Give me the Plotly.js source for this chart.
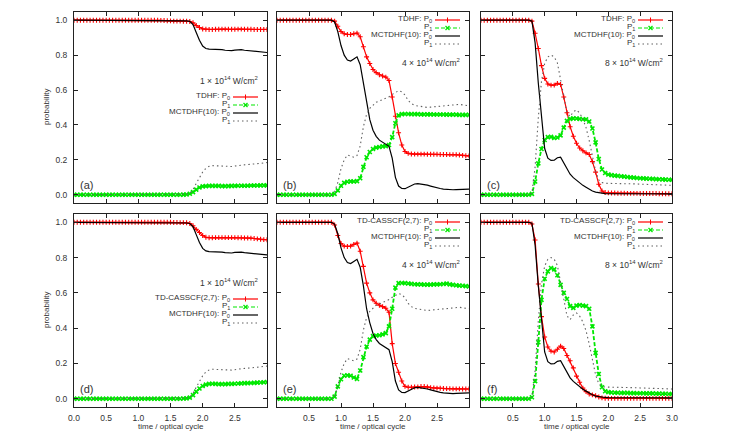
<!DOCTYPE html>
<html>
<head>
<meta charset="utf-8">
<script src="https://cdn.plot.ly/plotly-3.0.1.min.js"></script>
<style>html,body{margin:0;padding:0;background:#fff;}#plot{width:747px;height:444px;}</style>
</head>
<body>
<div id="plot"></div>
<script>
// time grid (optical cycles)
const T = [0,0.05,0.1,0.15,0.2,0.25,0.3,0.35,0.4,0.45,
 0.5,0.55,0.6,0.65,0.7,0.75,0.8,0.85,0.9,0.95,
 1,1.05,1.1,1.15,1.2,1.25,1.3,1.35,1.4,1.45,
 1.5,1.55,1.6,1.65,1.7,1.75,1.8,1.85,1.9,1.95,
 2,2.05,2.1,2.15,2.2,2.25,2.3,2.35,2.4,2.45,
 2.5,2.55,2.6,2.65,2.7,2.75,2.8,2.85,2.9,2.95,
 3];

// ---- 1e14 W/cm2 ----
const mc1_P0 = [1,1,1,1,1,1,1,1,1,1,
 1,1,1,1,1,1,1,1,1,1,
 1,1,1,1,1,1,1,1,1,0.999,
 0.999,0.999,0.998,0.998,0.997,0.996,0.993,0.975,0.93,0.885,
 0.852,0.838,0.834,0.834,0.835,0.834,0.831,0.828,0.826,0.826,
 0.829,0.832,0.831,0.828,0.826,0.825,0.823,0.821,0.819,0.816,
 0.815];
const mc1_P1 = [0,0,0,0,0,0,0,0,0,0,
 0,0,0,0,0,0,0,0,0,0,
 0,0,0,0,0,0,0,0,0,0,
 0,0,0.001,0.001,0.002,0.004,0.008,0.03,0.065,0.1,
 0.13,0.152,0.163,0.167,0.167,0.166,0.165,0.164,0.163,0.162,
 0.163,0.167,0.17,0.171,0.172,0.174,0.176,0.178,0.18,0.183,
 0.185];
const tdhf1_P0 = [1,1,1,1,1,1,1,1,1,1,
 1,1,1,1,1,1,1,1,1,1,
 1,1,1,1,1,1,1,0.999,0.998,0.997,
 0.996,0.995,0.995,0.995,0.994,0.994,0.993,0.985,0.97,0.958,
 0.95,0.948,0.947,0.947,0.948,0.948,0.949,0.949,0.948,0.948,
 0.948,0.949,0.949,0.948,0.948,0.948,0.947,0.947,0.947,0.947,
 0.947];
const tdhf1_P1 = [0,0,0,0,0,0,0,0,0,0,
 0,0,0,0,0,0,0,0,0,0,
 0,0,0,0,0,0,0,0,0,0,
 0,0,0,0,0.001,0.002,0.006,0.015,0.03,0.042,
 0.048,0.05,0.051,0.051,0.051,0.051,0.05,0.05,0.05,0.051,
 0.051,0.052,0.052,0.052,0.052,0.053,0.053,0.053,0.054,0.054,
 0.054];
const cas1_P0 = [1,1,1,1,1,1,1,1,1,1,
 1,1,1,1,1,1,1,1,1,1,
 1,1,1,1,1,1,1,1,1,1,
 1,0.999,0.999,0.998,0.998,0.997,0.993,0.98,0.96,0.942,
 0.925,0.915,0.912,0.912,0.913,0.913,0.913,0.913,0.913,0.913,
 0.913,0.912,0.912,0.911,0.911,0.91,0.908,0.906,0.904,0.902,
 0.901];
const cas1_P1 = [0,0,0,0,0,0,0,0,0,0,
 0,0,0,0,0,0,0,0,0,0,
 0,0,0,0,0,0,0,0,0,0,
 0,0,0,0,0.001,0.002,0.006,0.02,0.04,0.058,
 0.072,0.08,0.084,0.085,0.084,0.083,0.083,0.083,0.084,0.084,
 0.085,0.086,0.087,0.088,0.088,0.089,0.09,0.091,0.092,0.093,
 0.094];

// ---- 4e14 W/cm2 ----
const mc4_P0 = [1,1,1,1,1,1,1,1,1,1,
 1,1,1,1,1,1,1,1,0.99,0.935,
 0.855,0.8,0.772,0.766,0.778,0.79,0.745,0.64,0.51,0.43,
 0.37,0.335,0.313,0.3,0.29,0.278,0.21,0.1,0.05,0.036,
 0.035,0.045,0.055,0.062,0.064,0.062,0.058,0.055,0.05,0.044,
 0.039,0.036,0.033,0.031,0.029,0.029,0.03,0.031,0.032,0.033,
 0.033];
const mc4_P1 = [0,0,0,0,0,0,0,0,0,0,
 0,0,0,0,0,0,0,0,0.015,0.07,
 0.15,0.2,0.228,0.22,0.215,0.225,0.28,0.39,0.46,0.495,
 0.515,0.53,0.537,0.545,0.553,0.562,0.575,0.588,0.596,0.59,
 0.572,0.54,0.522,0.512,0.508,0.505,0.501,0.5,0.502,0.504,
 0.506,0.508,0.51,0.512,0.514,0.517,0.52,0.518,0.515,0.512,
 0.51];
const tdhf4_P0 = [1,1,1,1,1,1,1,1,1,1,
 1,1,1,1,1,1,1,1,0.995,0.965,
 0.935,0.922,0.918,0.918,0.922,0.926,0.905,0.848,0.79,0.752,
 0.718,0.7,0.688,0.68,0.674,0.655,0.56,0.45,0.355,0.285,
 0.248,0.237,0.234,0.233,0.233,0.233,0.233,0.232,0.232,0.232,
 0.232,0.231,0.231,0.231,0.23,0.23,0.229,0.228,0.226,0.224,
 0.223];
const tdhf4_P1 = [0,0,0,0,0,0,0,0,0,0,
 0,0,0,0,0,0,0,0,0.005,0.025,
 0.052,0.068,0.075,0.077,0.076,0.078,0.095,0.16,0.215,0.245,
 0.262,0.27,0.274,0.277,0.279,0.285,0.33,0.41,0.455,0.462,
 0.463,0.463,0.462,0.462,0.462,0.461,0.461,0.461,0.461,0.46,
 0.46,0.46,0.46,0.459,0.459,0.459,0.459,0.458,0.458,0.458,
 0.458];
const cas4_P0 = [1,1,1,1,1,1,1,1,1,1,
 1,1,1,1,1,1,1,1,0.985,0.925,
 0.88,0.865,0.863,0.865,0.875,0.882,0.836,0.75,0.655,0.6,
 0.56,0.541,0.53,0.522,0.513,0.49,0.312,0.2,0.15,0.1,
 0.07,0.065,0.065,0.066,0.067,0.069,0.069,0.067,0.063,0.061,
 0.06,0.059,0.058,0.057,0.057,0.056,0.056,0.056,0.055,0.055,
 0.055];
const cas4_P1 = [0,0,0,0,0,0,0,0,0,0,
 0,0,0,0,0,0,0,0,0.012,0.07,
 0.11,0.13,0.133,0.13,0.12,0.112,0.16,0.236,0.295,0.335,
 0.355,0.358,0.36,0.365,0.372,0.41,0.51,0.63,0.655,0.656,
 0.655,0.653,0.651,0.649,0.648,0.648,0.647,0.647,0.647,0.648,
 0.648,0.649,0.65,0.652,0.648,0.645,0.643,0.641,0.64,0.638,
 0.637];

// ---- 8e14 W/cm2 ----
const mc8_P0 = [1,1,1,1,1,1,1,1,1,1,
 1,1,1,1,1,1,0.995,0.87,0.64,0.43,
 0.265,0.21,0.197,0.198,0.212,0.215,0.18,0.145,0.118,0.098,
 0.082,0.066,0.054,0.043,0.031,0.022,0.015,0.011,0.008,0.007,
 0.006,0.006,0.006,0.006,0.006,0.006,0.006,0.006,0.006,0.006,
 0.005,0.005,0.005,0.005,0.005,0.005,0.005,0.005,0.005,0.005,
 0.005];
const mc8_P1 = [0,0,0,0,0,0,0,0,0,0,
 0,0,0,0,0,0,0.01,0.16,0.44,0.65,
 0.752,0.79,0.8,0.79,0.755,0.665,0.56,0.47,0.448,0.475,
 0.486,0.468,0.435,0.385,0.31,0.215,0.135,0.085,0.07,0.066,
 0.066,0.066,0.066,0.066,0.066,0.065,0.064,0.063,0.063,0.062,
 0.061,0.06,0.06,0.059,0.058,0.058,0.057,0.056,0.056,0.055,
 0.055];
const tdhf8_P0 = [1,1,1,1,1,1,1,1,1,1,
 1,1,1,1,1,1,0.995,0.925,0.838,0.74,
 0.667,0.635,0.628,0.628,0.638,0.632,0.56,0.47,0.39,0.335,
 0.295,0.268,0.252,0.24,0.231,0.19,0.13,0.06,0.022,0.013,
 0.011,0.01,0.01,0.009,0.009,0.009,0.008,0.008,0.008,0.008,
 0.007,0.007,0.007,0.007,0.007,0.007,0.006,0.006,0.006,0.006,
 0.006];
const tdhf8_P1 = [0,0,0,0,0,0,0,0,0,0,
 0,0,0,0,0,0,0.005,0.076,0.18,0.262,
 0.314,0.33,0.332,0.325,0.328,0.34,0.385,0.423,0.435,0.438,
 0.437,0.435,0.433,0.432,0.42,0.38,0.3,0.205,0.145,0.125,
 0.116,0.113,0.11,0.108,0.106,0.104,0.102,0.1,0.098,0.096,
 0.095,0.094,0.093,0.092,0.091,0.09,0.089,0.088,0.087,0.086,
 0.086];
const cas8_P0 = [1,1,1,1,1,1,1,1,1,1,
 1,1,1,1,1,1,0.99,0.9,0.65,0.465,
 0.35,0.293,0.27,0.265,0.28,0.298,0.285,0.245,0.215,0.175,
 0.128,0.093,0.06,0.04,0.027,0.022,0.017,0.01,0.005,0.003,
 0.002,0.002,0.002,0.002,0.002,0.002,0.002,0.002,0.002,0.002,
 0.002,0.002,0.002,0.002,0.002,0.002,0.002,0.002,0.002,0.002,
 0.002];
const cas8_P1 = [0,0,0,0,0,0,0,0,0,0,
 0,0,0,0,0,0,0.008,0.1,0.32,0.56,
 0.68,0.722,0.741,0.733,0.7,0.645,0.6,0.565,0.525,0.515,
 0.528,0.531,0.528,0.525,0.51,0.41,0.26,0.14,0.065,0.042,
 0.037,0.035,0.034,0.034,0.033,0.033,0.033,0.032,0.032,0.031,
 0.031,0.031,0.03,0.03,0.03,0.029,0.029,0.028,0.028,0.027,
 0.027];

// labels
const panelLetters = ['(a)','(b)','(c)','(d)','(e)','(f)'];
const intensities = ['1 × 10<sup>14</sup> W/cm<sup>2</sup>','4 × 10<sup>14</sup> W/cm<sup>2</sup>','8 × 10<sup>14</sup> W/cm<sup>2</sup>'];
const methodTop = 'TDHF: P<sub>0</sub>';
const methodBottom = 'TD-CASSCF(2,7): P<sub>0</sub>';
const refLabel = 'MCTDHF(10): P<sub>0</sub>';
const p1Label = 'P<sub>1</sub>';
const xTickValsTop = [0.5,1,1.5,2,2.5];
const xTickValsBottom = [[0,0.5,1,1.5,2,2.5],[0.5,1,1.5,2,2.5],[0.5,1,1.5,2,2.5,3]];
const xTickTextsBottom = [
  ['0.0','0.5','1.0','1.5','2.0','2.5'],
  ['0.5','1.0','1.5','2.0','2.5'],
  ['0.5','1.0','1.5','2.0','2.5','3.0']
];
const yTickVals = [0,0.2,0.4,0.6,0.8,1.0];
const yTickText = ['0.0','0.2','0.4','0.6','0.8','1.0'];
const xTitle = 'time / optical cycle';
const yTitle = 'probability';

// panel series: [method P0, method P1, ref P0, ref P1]
const panels = [
  [tdhf1_P0, tdhf1_P1, mc1_P0, mc1_P1],
  [tdhf4_P0, tdhf4_P1, mc4_P0, mc4_P1],
  [tdhf8_P0, tdhf8_P1, mc8_P0, mc8_P1],
  [cas1_P0, cas1_P1, mc1_P0, mc1_P1],
  [cas4_P0, cas4_P1, mc4_P0, mc4_P1],
  [cas8_P0, cas8_P1, mc8_P0, mc8_P1]
];

// ---------- layout geometry ----------
const ML = 74, MR = 75, MT = 12, MB = 37, W = 747, H = 444;
const PW = W - ML - MR, PH = H - MT - MB;
const colPx = [[74,267],[277,469],[481,672]];
const rowPx = [[12,203],[214,407]];
const px = v => (v - ML) / PW;
const py = v => (H - MB - v) / PH;

const RED = '#ff0000', GREEN = '#00e800', BLACK = '#000000', GRAY = '#606060';
const FONT = 'Liberation Sans, Arial, sans-serif';

const styles = [
  {mode:'lines+markers', line:{color:RED, width:1.2}, marker:{symbol:'cross-thin-open', size:3.5, color:RED, line:{color:RED, width:1.1}}},
  {mode:'lines+markers', line:{color:GREEN, width:1.8, dash:'4px,2px'}, marker:{symbol:'x-thin-open', size:4, color:GREEN, line:{color:GREEN, width:1.6}}},
  {mode:'lines', line:{color:BLACK, width:1.2}},
  {mode:'lines', line:{color:GRAY, width:1.1, dash:'1.5px,3px'}}
];

const data = [];
const layout = {
  width: W, height: H,
  margin: {l:ML, r:MR, t:MT, b:MB, pad:0},
  paper_bgcolor:'#fff', plot_bgcolor:'#fff',
  showlegend:false, hovermode:false,
  font:{family:FONT, size:8.5, color:'#333'},
  annotations: [], shapes: []
};

for (let k = 0; k < 6; k++) {
  const col = k % 3, row = Math.floor(k / 3);
  const sfx = k === 0 ? '' : String(k + 1);
  panels[k].forEach((ys, j) => {
    data.push(Object.assign({x:T, y:ys, xaxis:'x'+sfx, yaxis:'y'+sfx, cliponaxis:true}, JSON.parse(JSON.stringify(styles[j]))));
  });
  const [x0, x1] = colPx[col];
  const [y0, y1] = rowPx[row];
  const xa = {
    domain:[px(x0), px(x1)], range:[0,3], anchor:'y'+sfx,
    showline:true, linecolor:'#222', linewidth:1, mirror:'ticks',
    ticks:'inside', ticklen:4, tickwidth:1, tickcolor:'#222',
    tickmode:'array', showgrid:false, zeroline:false,
    tickfont:{family:FONT, size:8.5, color:'#333'}, ticklabelstandoff:3
  };
  if (row === 1) { xa.tickvals = xTickValsBottom[col]; xa.ticktext = xTickTextsBottom[col]; xa.showticklabels = true; }
  else { xa.tickvals = xTickValsTop; xa.showticklabels = false; }
  layout['xaxis'+sfx] = xa;
  const ya = {
    domain:[py(y1), py(y0)], range:[-0.047,1.047], anchor:'x'+sfx,
    showline:true, linecolor:'#222', linewidth:1, mirror:'ticks',
    ticks:'inside', ticklen:4, tickwidth:1, tickcolor:'#222',
    tickmode:'array', tickvals:yTickVals,
    showticklabels: col === 0, showgrid:false, zeroline:false,
    tickfont:{family:FONT, size:8.5, color:'#333'}, ticklabelstandoff:4
  };
  if (col === 0) ya.ticktext = yTickText;
  layout['yaxis'+sfx] = ya;

  // panel letter
  layout.annotations.push({xref:'paper', yref:'paper', x:px(x0+4), y:py(y1-18),
    xanchor:'left', yanchor:'middle', showarrow:false, text:panelLetters[k],
    font:{family:FONT, size:11, color:'#333'}});

  // key
  let offs, intOff;
  if (col === 0) { offs = [84,92,100,108]; intOff = 68; }
  else { offs = [7,15,23,31]; intOff = 50; }
  const labels = [row === 0 ? methodTop : methodBottom, p1Label, refLabel, p1Label];
  const tx = x1 - 35, sx0 = x1 - 34, sx1 = x1 - 9, sxm = (sx0 + sx1) / 2;
  layout.annotations.push({xref:'paper', yref:'paper', x:px(x1-7), y:py(y0+intOff),
    xanchor:'right', yanchor:'middle', showarrow:false, text:intensities[col],
    font:{family:FONT, size:8.5, color:'#333'}});
  labels.forEach((lab, j) => {
    const yy = y0 + offs[j];
    layout.annotations.push({xref:'paper', yref:'paper', x:px(tx), y:py(yy),
      xanchor:'right', yanchor:'middle', showarrow:false, text:lab,
      font:{family:FONT, size:8, color:'#333'}});
    const st = styles[j];
    const ly = yy + 1;
    layout.shapes.push({type:'line', xref:'paper', yref:'paper', x0:px(sx0), x1:px(sx1), y0:py(ly), y1:py(ly),
      line:{color:st.line.color, width: j === 1 ? 1.1 : st.line.width, dash: st.line.dash || 'solid'}});
    if (j === 0) {
      layout.shapes.push({type:'line', xref:'paper', yref:'paper', x0:px(sxm), x1:px(sxm), y0:py(ly-2.5), y1:py(ly+2.5), line:{color:RED, width:1}});
    } else if (j === 1) {
      layout.shapes.push({type:'line', xref:'paper', yref:'paper', x0:px(sxm-2), x1:px(sxm+2), y0:py(ly-2), y1:py(ly+2), line:{color:GREEN, width:1.2}});
      layout.shapes.push({type:'line', xref:'paper', yref:'paper', x0:px(sxm-2), x1:px(sxm+2), y0:py(ly+2), y1:py(ly-2), line:{color:GREEN, width:1.2}});
    }
  });
}

// axis titles
[0,1].forEach(r => {
  const [y0, y1] = rowPx[r];
  layout.annotations.push({xref:'paper', yref:'paper', x:px(46.5), y:py((y0+y1)/2),
    xanchor:'center', yanchor:'middle', textangle:-90, showarrow:false, text:yTitle,
    font:{family:FONT, size:8, color:'#333'}});
});
colPx.forEach(([x0, x1]) => {
  layout.annotations.push({xref:'paper', yref:'paper', x:px((x0+x1)/2), y:py(426.5),
    xanchor:'center', yanchor:'middle', showarrow:false, text:xTitle,
    font:{family:FONT, size:8, color:'#333'}});
});

Plotly.newPlot('plot', data, layout, {staticPlot:true, displayModeBar:false});
</script>
</body>
</html>
